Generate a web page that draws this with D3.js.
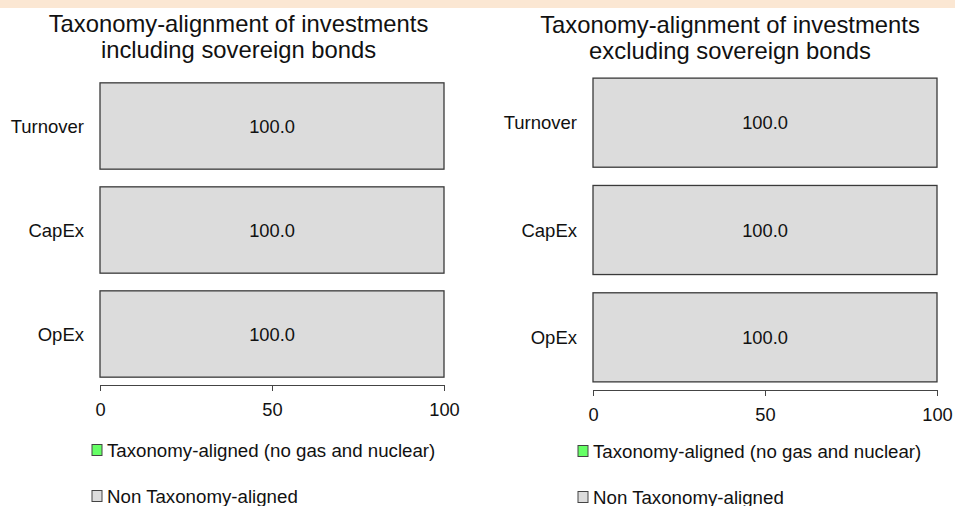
<!DOCTYPE html>
<html>
<head>
<meta charset="utf-8">
<script src="https://cdn.jsdelivr.net/npm/d3@7/dist/d3.min.js"></script>
<style>
  html, body { margin: 0; padding: 0; background: #ffffff; }
  svg { display: block; font-family: "Liberation Sans", Arial, Helvetica, sans-serif; }
</style>
</head>
<body>
<svg id="chart" width="955" height="506"></svg>
<script>
// ---- data ----
const categories = ["Turnover", "CapEx", "OpEx"];
const titleIncl = ["Taxonomy-alignment of investments", "including sovereign bonds"];
const titleExcl = ["Taxonomy-alignment of investments", "excluding sovereign bonds"];
const alignedIncl = [0, 0, 0];
const nonAlignedIncl = [100, 100, 100];
const alignedExcl = [0, 0, 0];
const nonAlignedExcl = [100, 100, 100];
const xTicks = [0, 50, 100];
const legendLabels = ["Taxonomy-aligned (no gas and nuclear)", "Non Taxonomy-aligned"];
const seriesColors = ["#66ff66", "#dcdcdc"];

const svg = d3.select("#chart");

// top band
svg.append("rect").attr("x", 0).attr("y", 0).attr("width", 955).attr("height", 8).attr("fill", "#fbe7d3");

function drawPanel(cfg) {
  const g = svg.append("g");
  const x = d3.scaleLinear().domain([0, 100]).range(cfg.xRange);
  const y = d3.scaleBand().domain(categories).range(cfg.yRange).paddingInner(0.17).paddingOuter(0.085);

  // title
  g.append("text")
    .attr("x", cfg.titleX).attr("text-anchor", "middle")
    .attr("font-size", 23.8).attr("fill", "#111")
    .selectAll("tspan").data(cfg.title).join("tspan")
    .attr("x", cfg.titleX)
    .attr("y", (d, i) => cfg.titleY + i * 25.5)
    .text(d => d);

  const rows = categories.map((c, i) => ({ cat: c, a: cfg.aligned[i], n: cfg.non[i] }));

  // aligned segments
  g.selectAll("rect.al").data(rows).join("rect").attr("class", "al")
    .attr("x", x(0)).attr("y", d => y(d.cat))
    .attr("width", d => x(d.a) - x(0)).attr("height", y.bandwidth())
    .attr("fill", seriesColors[0]).attr("stroke", d => d.a > 0 ? "#333" : "none");

  // non-aligned segments
  g.selectAll("rect.na").data(rows).join("rect").attr("class", "na")
    .attr("x", d => x(d.a)).attr("y", d => y(d.cat))
    .attr("width", d => x(d.a + d.n) - x(d.a)).attr("height", y.bandwidth())
    .attr("fill", seriesColors[1]).attr("stroke", "#3a3a3a").attr("stroke-width", 1.3);

  // value labels
  g.selectAll("text.val").data(rows).join("text").attr("class", "val")
    .attr("x", d => x(d.a + d.n / 2)).attr("y", d => y(d.cat) + y.bandwidth() / 2)
    .attr("text-anchor", "middle").attr("dominant-baseline", "central")
    .attr("font-size", 18.3).attr("fill", "#111")
    .text(d => d.n.toFixed(1));

  // category labels
  g.selectAll("text.cat").data(rows).join("text").attr("class", "cat")
    .attr("x", cfg.xRange[0] - 16).attr("y", d => y(d.cat) + y.bandwidth() / 2)
    .attr("text-anchor", "end").attr("dominant-baseline", "central")
    .attr("font-size", 18.5).attr("fill", "#111")
    .text(d => d.cat);

  // x axis
  const axis = d3.axisBottom(x).tickValues(xTicks).tickFormat(d3.format("d"))
    .tickSize(6).tickPadding(12);
  const ag = g.append("g").attr("transform", `translate(0,${cfg.axisY})`).call(axis);
  ag.select(".domain").attr("stroke", "#444");
  ag.selectAll(".tick line").attr("stroke", "#444");
  ag.selectAll(".tick text").attr("font-size", 18.3).attr("fill", "#111")
    .attr("font-family", '"Liberation Sans", Arial, Helvetica, sans-serif');

  // legend
  const lg = g.selectAll("g.leg").data(legendLabels).join("g").attr("class", "leg")
    .attr("transform", (d, i) => `translate(${cfg.legendX},${cfg.legendY + i * 46})`);
  lg.append("rect").attr("x", 0).attr("y", -5.5).attr("width", 10).attr("height", 11)
    .attr("fill", (d, i) => seriesColors[i]).attr("stroke", "#444").attr("stroke-width", 1);
  lg.append("text").attr("x", 15).attr("y", 0).attr("dominant-baseline", "central")
    .attr("font-size", 18.7).attr("fill", "#111").text(d => d);
}

drawPanel({
  title: titleIncl, titleX: 238.5, titleY: 32,
  aligned: alignedIncl, non: nonAlignedIncl,
  xRange: [100, 444], yRange: [74, 386], axisY: 385,
  legendX: 92, legendY: 450
});

drawPanel({
  title: titleExcl, titleX: 730, titleY: 33,
  aligned: alignedExcl, non: nonAlignedExcl,
  xRange: [593, 937], yRange: [69, 391], axisY: 390,
  legendX: 578, legendY: 451
});
</script>
</body>
</html>
